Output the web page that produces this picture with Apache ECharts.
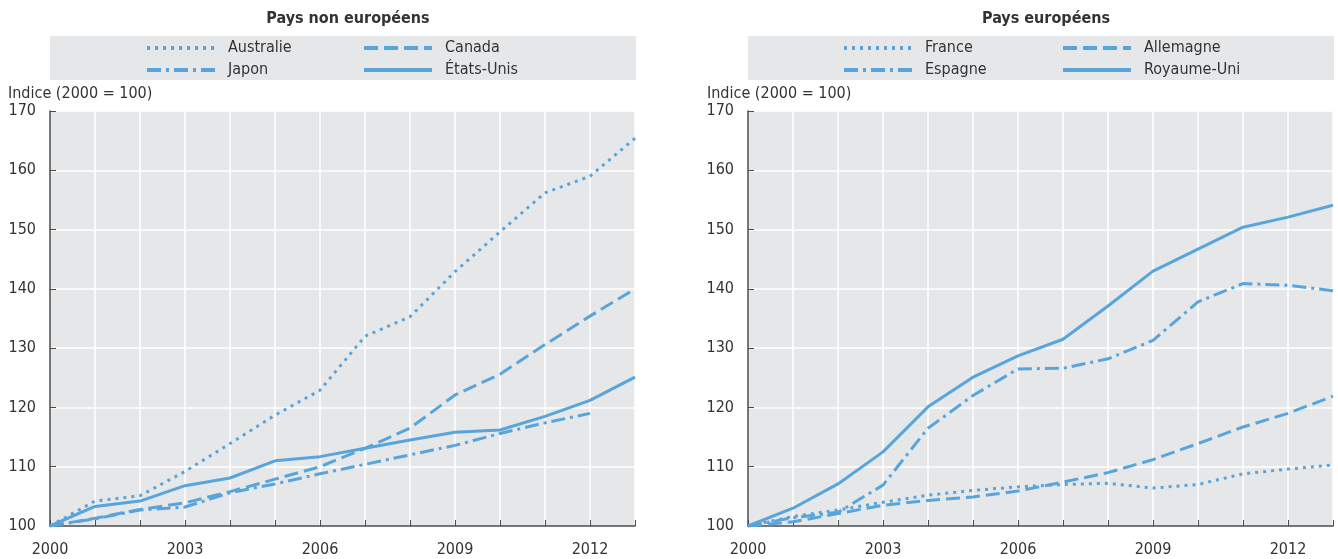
<!DOCTYPE html>
<html><head><meta charset="utf-8">
<script src="https://cdn.jsdelivr.net/npm/echarts@6/dist/echarts.min.js"></script>
<style>html,body{margin:0;padding:0;background:#fff}#c{width:1338px;height:559px}</style>
</head><body><div id="c"></div>
<script>
const years = [2000,2001,2002,2003,2004,2005,2006,2007,2008,2009,2010,2011,2012,2013];
const yTicks = [100,110,120,130,140,150,160,170];
const xTickLabels = [2000,2003,2006,2009,2012];

const australie = [100,104.2,105.1,109.2,113.9,118.7,122.9,132.0,135.3,142.9,149.6,156.2,159.0,165.4];
const canada = [100,101.3,102.8,103.9,105.8,107.9,110.0,113.1,116.5,122.1,125.6,130.6,135.4,140.0];
const japon = [100,101.2,102.7,103.2,105.6,107.1,108.8,110.4,112.0,113.6,115.6,117.4,119.0];
const etatsUnis = [100,103.3,104.2,106.8,108.1,111.0,111.7,113.1,114.5,115.8,116.2,118.5,121.2,125.1];

const france = [100,101.6,102.7,104.0,105.2,106.0,106.6,107.0,107.2,106.4,107.0,108.8,109.6,110.3];
const allemagne = [100,100.7,102.1,103.5,104.3,104.9,105.9,107.4,109.0,111.2,113.9,116.7,119.0,121.9];
const espagne = [100,101.4,102.3,106.9,116.5,122.0,126.5,126.6,128.2,131.3,137.8,140.9,140.6,139.7];
const royaumeUni = [100,103.0,107.1,112.5,120.1,125.1,128.7,131.5,137.1,143.0,146.7,150.4,152.1,154.1];

const FONT = "'Liberation Sans Narrow','DejaVu Sans Condensed','Liberation Sans',sans-serif";
const COLOR = '#58a5dc';
const DOT = [3,5], DASH = [14,6], DASHDOT = [14,5,3,5];

function pairs(vals){ return vals.map((v,i)=>[years[i], v]); }

function xAxis(idx){
  return {
    type:'value', gridIndex:idx, min:2000, max:2013, interval:1,
    axisLine:{show:true, lineStyle:{color:'#4a4a4a', width:1.5}},
    axisTick:{show:true, inside:true, length:6, lineStyle:{color:'#4a4a4a', width:1}},
    axisLabel:{margin:16, fontFamily:FONT, fontSize:16, color:'#333',
      formatter:v=> xTickLabels.indexOf(v) >= 0 ? String(v) : ''},
    splitLine:{show:true, lineStyle:{color:'#fff', width:1.5}}
  };
}
function yAxis(idx){
  return {
    type:'value', gridIndex:idx, min:100, max:170, interval:10,
    axisLine:{show:true, lineStyle:{color:'#4a4a4a', width:1.5}},
    axisTick:{show:true, inside:true, length:6, lineStyle:{color:'#4a4a4a', width:1}},
    axisLabel:{margin:14, fontFamily:FONT, fontSize:16, color:'#333',
      formatter:v=> yTicks.indexOf(v) >= 0 ? String(v) : ''},
    splitLine:{show:true, lineStyle:{color:'#fff', width:1.5}}
  };
}
function line(name, vals, dash, idx){
  return {
    name, type:'line', xAxisIndex:idx, yAxisIndex:idx, data:pairs(vals),
    symbol:'none', smooth:false, color:COLOR,
    lineStyle:{color:COLOR, width:3, type:dash},
    emphasis:{disabled:true}, animation:false
  };
}
function legend(names, left){
  return {
    data:names, orient:'vertical', left:left, top:40, padding:0,
    itemWidth:68, itemHeight:14, itemGap:6,
    itemStyle:{color:'rgba(0,0,0,0)', borderWidth:0, opacity:0},
    lineStyle:{width:4},
    textStyle:{fontFamily:FONT, fontSize:16, color:'#333', padding:[0,0,0,8]},
    selectedMode:false
  };
}

const chart = echarts.init(document.getElementById('c'), null, {renderer:'canvas'});
chart.setOption({
  animation:false,
  graphic:[
    {type:'rect', shape:{x:50, y:36, width:586, height:44}, style:{fill:'#e6e7e9'}, z:-10},
    {type:'rect', shape:{x:748, y:36, width:586, height:44}, style:{fill:'#e6e7e9'}, z:-10}
  ],
  title:[
    {text:'Pays non européens', left:343, top:6, textAlign:'center',
      textStyle:{fontFamily:FONT, fontSize:16, fontWeight:'bold', color:'#333'}},
    {text:'Pays européens', left:1041, top:6, textAlign:'center',
      textStyle:{fontFamily:FONT, fontSize:16, fontWeight:'bold', color:'#333'}},
    {text:'Indice (2000 = 100)', left:3, top:81,
      textStyle:{fontFamily:FONT, fontSize:16, fontWeight:'normal', color:'#333'}},
    {text:'Indice (2000 = 100)', left:702, top:81,
      textStyle:{fontFamily:FONT, fontSize:16, fontWeight:'normal', color:'#333'}}
  ],
  legend:[
    legend(['Australie','Japon'], 145),
    legend(['Canada','États-Unis'], 362),
    legend(['France','Espagne'], 842),
    legend(['Allemagne','Royaume-Uni'], 1061)
  ],
  grid:[
    {left:50, top:111, width:585, height:415, show:true, backgroundColor:'#e6e7e9', borderWidth:0},
    {left:748, top:111, width:585, height:415, show:true, backgroundColor:'#e6e7e9', borderWidth:0}
  ],
  xAxis:[xAxis(0), xAxis(1)],
  yAxis:[yAxis(0), yAxis(1)],
  series:[
    line('Australie', australie, DOT, 0),
    line('Canada', canada, DASH, 0),
    line('Japon', japon, DASHDOT, 0),
    line('États-Unis', etatsUnis, 'solid', 0),
    line('France', france, DOT, 1),
    line('Allemagne', allemagne, DASH, 1),
    line('Espagne', espagne, DASHDOT, 1),
    line('Royaume-Uni', royaumeUni, 'solid', 1)
  ]
});
</script></body></html>
